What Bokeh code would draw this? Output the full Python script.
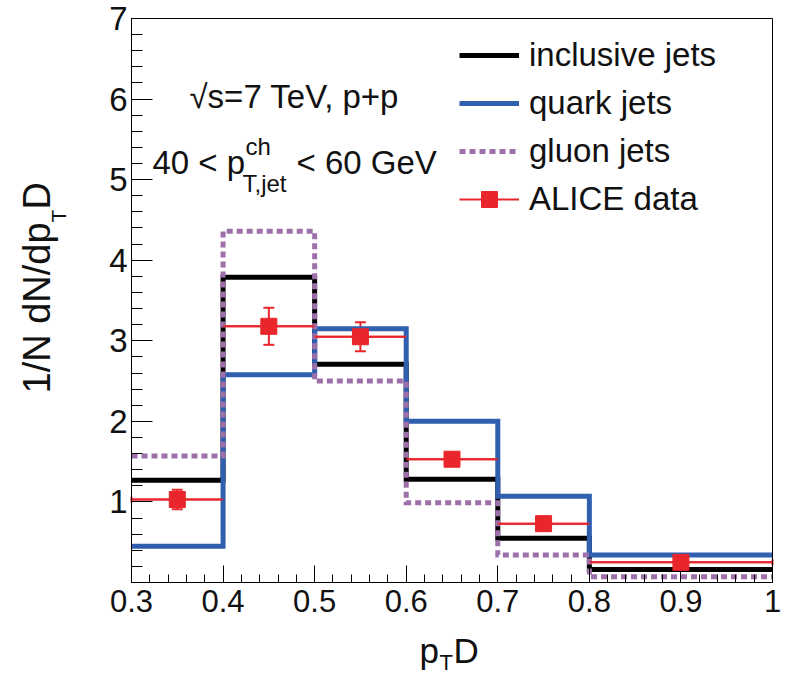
from bokeh.plotting import figure
from bokeh.models import (Range1d, FixedTicker, Label, Legend, LegendItem,
                          Whisker, ColumnDataSource, TeeHead, LinearAxis)
from bokeh.embed import file_html
from bokeh.resources import INLINE
import math

# ---------------- data ----------------
bin_edges = [0.3, 0.4, 0.5, 0.6, 0.7, 0.8, 1.0]
inclusive = [1.27, 3.79, 2.71, 1.28, 0.55, 0.16]
quark = [0.45, 2.58, 3.15, 2.00, 1.07, 0.34]
gluon = [1.57, 4.36, 2.50, 0.99, 0.34, 0.07]
data_x = [0.35, 0.45, 0.55, 0.65, 0.75, 0.90]
data_y = [1.03, 3.18, 3.05, 1.53, 0.73, 0.25]
data_err = [0.12, 0.23, 0.18, 0.08, 0.07, 0.06]
x_ticks = [0.3, 0.4, 0.5, 0.6, 0.7, 0.8, 0.9, 1.0]
y_ticks = [1, 2, 3, 4, 5, 6, 7]
series_labels = ["inclusive jets", "quark jets", "gluon jets", "ALICE data"]

FONT = "Liberation Sans"
RED = "#e8262b"
BLUE = "#2f5fae"
PURPLE = "#9d70a9"
TXT = "#111111"

# ---------------- layout ----------------
W, H = 782, 678
X0, X1, Y0, Y1 = 0.3, 1.0, 0.0, 7.0
FL, FR, FT, FB = 131, 772, 18, 582          # plot box in canvas px
kx = (FR - FL) / (X1 - X0)
ky = (FB - FT) / (Y1 - Y0)
xs = X0 - FL / kx
xe = X1 + (W - FR) / kx
ys = Y0 - (H - FB) / ky
ye = Y1 + FT / ky

def cx(px):            # canvas px -> data x
    return xs + px / kx
def cy(py):            # canvas px (from top) -> data y
    return ye - py / ky

p = figure(width=W, height=H, x_range=Range1d(xs, xe), y_range=Range1d(ys, ye),
           output_backend="svg", toolbar_location=None, min_border=0)
p.grid.visible = False
p.outline_line_color = None
p.background_fill_color = "white"
p.border_fill_color = "white"

xa = p.below[0]
ya = p.left[0]
xa.fixed_location = Y0
ya.fixed_location = X0
xa.bounds = (X0, X1)
ya.bounds = (Y0, Y1)

minor_x = [round(0.3 + 0.02 * k, 2) for k in range(36)]
minor_y = [round(0.2 * k, 1) for k in range(36)]
xa.ticker = FixedTicker(ticks=x_ticks, minor_ticks=minor_x)
ya.ticker = FixedTicker(ticks=y_ticks, minor_ticks=minor_y)
xa.major_label_overrides = {1.0: "1", 0.3: "0.3", 0.4: "0.4", 0.5: "0.5",
                            0.6: "0.6", 0.7: "0.7", 0.8: "0.8", 0.9: "0.9"}
for ax in (xa, ya):
    ax.axis_line_color = "black"
    ax.major_tick_line_color = "black"
    ax.minor_tick_line_color = "black"
    ax.major_tick_out = 0
    ax.minor_tick_out = 0
    ax.major_label_text_font = FONT
    ax.major_label_text_color = TXT
xa.major_tick_in = 17
xa.minor_tick_in = 8
ya.major_tick_in = 21
ya.minor_tick_in = 11
xa.major_label_text_font_size = "31px"
ya.major_label_text_font_size = "33px"
xa.major_label_standoff = 7
ya.major_label_standoff = 4

# top and right edges of the box
top_ax = LinearAxis(fixed_location=Y1, bounds=(X0, X1), ticker=FixedTicker(ticks=[]),
                    axis_line_color="black", major_label_text_font_size="0px")
right_ax = LinearAxis(fixed_location=X1, bounds=(Y0, Y1), ticker=FixedTicker(ticks=[]),
                      axis_line_color="black", major_label_text_font_size="0px")
p.add_layout(top_ax, "above")
p.add_layout(right_ax, "right")

# ---------------- histograms ----------------
r_inc = p.step(bin_edges, inclusive + [inclusive[-1]], mode="after",
               line_color="black", line_width=5, line_join="miter")
r_q = p.step(bin_edges, quark + [quark[-1]], mode="after",
             line_color=BLUE, line_width=5, line_join="miter")
r_g = p.step(bin_edges, gluon + [gluon[-1]], mode="after",
             line_color=PURPLE, line_width=5, line_dash="6 4", line_join="miter")

# ---------------- data points ----------------
lo = bin_edges[:-1]
hi = bin_edges[1:]
src = ColumnDataSource(dict(x=data_x, y=data_y, lo=lo, hi=hi,
                            lower=[y - e for y, e in zip(data_y, data_err)],
                            upper=[y + e for y, e in zip(data_y, data_err)]))
r_h = p.segment(x0="lo", y0="y", x1="hi", y1="y", source=src,
                line_color=RED, line_width=2)
hw = Whisker(base="y", lower="lo", upper="hi", source=src, dimension="width",
             line_color=RED, line_width=2,
             upper_head=TeeHead(size=6, line_color=RED, line_width=2),
             lower_head=TeeHead(size=6, line_color=RED, line_width=2))
vw = Whisker(base="x", lower="lower", upper="upper", source=src, dimension="height",
             line_color=RED, line_width=2,
             upper_head=TeeHead(size=11, line_color=RED, line_width=2),
             lower_head=TeeHead(size=11, line_color=RED, line_width=2))
p.add_layout(hw)
p.add_layout(vw)
r_pts = p.scatter("x", "y", source=src, marker="square", size=16,
                  fill_color=RED, line_color=RED, level="overlay")

# ---------------- legend ----------------
legend = Legend(items=[LegendItem(label=series_labels[0], renderers=[r_inc]),
                       LegendItem(label=series_labels[1], renderers=[r_q]),
                       LegendItem(label=series_labels[2], renderers=[r_g]),
                       LegendItem(label=series_labels[3], renderers=[r_h, r_pts])],
                location=(459, H - 219), glyph_width=60, glyph_height=40,
                label_height=40, spacing=8, padding=0, margin=0,
                label_standoff=10, label_text_font=FONT,
                label_text_font_size="33px", label_text_color=TXT,
                border_line_color=None, background_fill_alpha=0)
p.add_layout(legend)

# ---------------- texts ----------------
def lab(text, px, py, size, angle=0.0):
    p.add_layout(Label(x=cx(px), y=cy(py), text=text, text_font=FONT,
                       text_font_size=size, text_color=TXT, angle=angle,
                       text_align="left", text_baseline="alphabetic"))

lab("\u221as=7 TeV, p+p", 189, 96, "33px")
lab("40 < p", 152, 162, "33px")
lab("ch", 245, 146, "24px")
lab("T,jet", 242, 183, "24px")
lab("< 60 GeV", 296, 162, "33px")

# x-axis title  p_T D
lab("p", 419, 650, "35px")
lab("T", 439, 662, "22px")
lab("D", 453, 650, "35px")

# y-axis title  1/N dN/dp_T D (rotated)
ang = math.pi / 2
lab("1/N dN/dp", 36, 393, "38px", angle=ang)
lab("T", 58, 222, "21px", angle=ang)
lab("D", 36, 209, "38px", angle=ang)

open("out.html", "w").write(file_html(p, INLINE))
